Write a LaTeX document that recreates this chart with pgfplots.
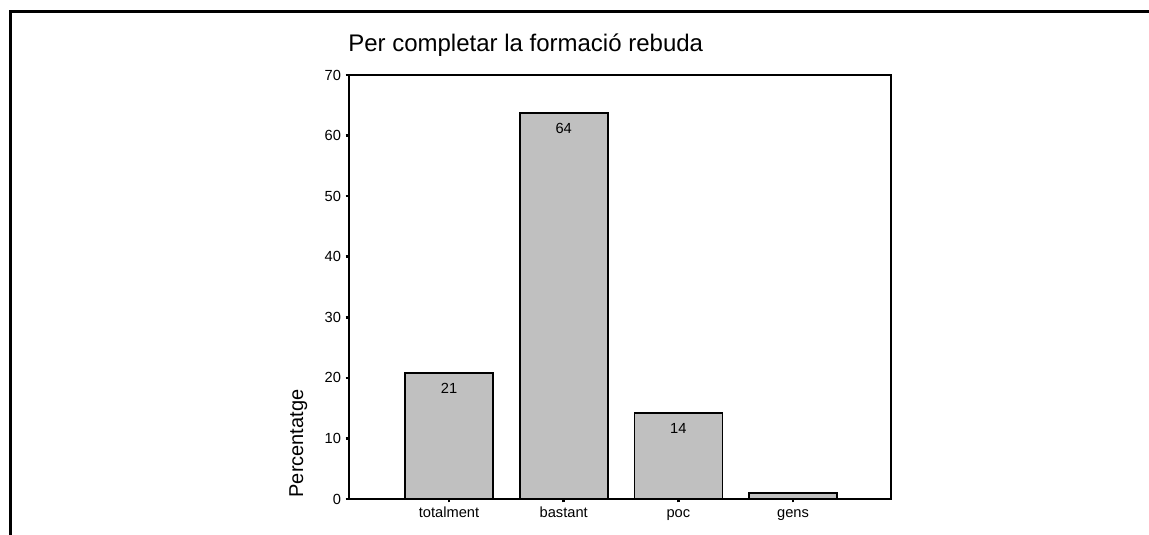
\documentclass[border=0pt]{standalone}
\usepackage{fontspec}
\setmainfont{Liberation Sans}
\usepackage{pgfplots}
\pgfplotsset{compat=1.18}
\definecolor{barfill}{RGB}{192,192,192}

\begin{document}
\begin{tikzpicture}
% page is 1149 x 535 px at 0.75pt per px
\useasboundingbox (0,0) rectangle (861.75pt,401.25pt);
% cropped outer frame (top and left only)
\draw[line width=2.2pt] (7.9pt,0) -- (7.9pt,392.75pt) -- (861.75pt,392.75pt);

\begin{axis}[
    at={(261.75pt,27pt)},
    anchor=south west,
    scale only axis,
    width=406.5pt,
    height=318pt,
    xmin=-0.872, xmax=3.854,
    ymin=0, ymax=70,
    xtick=data,
    xticklabels={totalment,bastant,poc,gens},
    ytick={0,10,...,70},
    xtick pos=bottom,
    ytick pos=left,
    tick align=outside,
    major tick length=2.5pt,
    tick style={line width=2pt,black},
    axis line style={line width=1.5pt},
    tick label style={font=\fontsize{11}{13}\selectfont},
    xticklabel style={text height=8pt,text depth=2.5pt},
    /pgf/number format/assume math mode=true,
    ybar,
    bar width=0.767,
    point meta=explicit symbolic,
    nodes near coords,
    nodes near coords style={anchor=center,yshift=-11.6pt,font=\fontsize{11}{13}\selectfont},
]
\addplot[draw=black, line width=1.3pt, fill=barfill] coordinates {
    (0,20.8) [21]
    (1,63.7) [64]
    (2,14.2) [14]
    (3,1.0) [{}]
};
\end{axis}

\node[anchor=base west, inner sep=0, font=\fontsize{18}{22}\selectfont] at (261pt,362.25pt) {Per completar la formació rebuda};
\node[rotate=90, anchor=base west, inner sep=0, font=\fontsize{15}{18}\selectfont] at (227.25pt,28pt) {Percentatge};
\end{tikzpicture}
\end{document}
